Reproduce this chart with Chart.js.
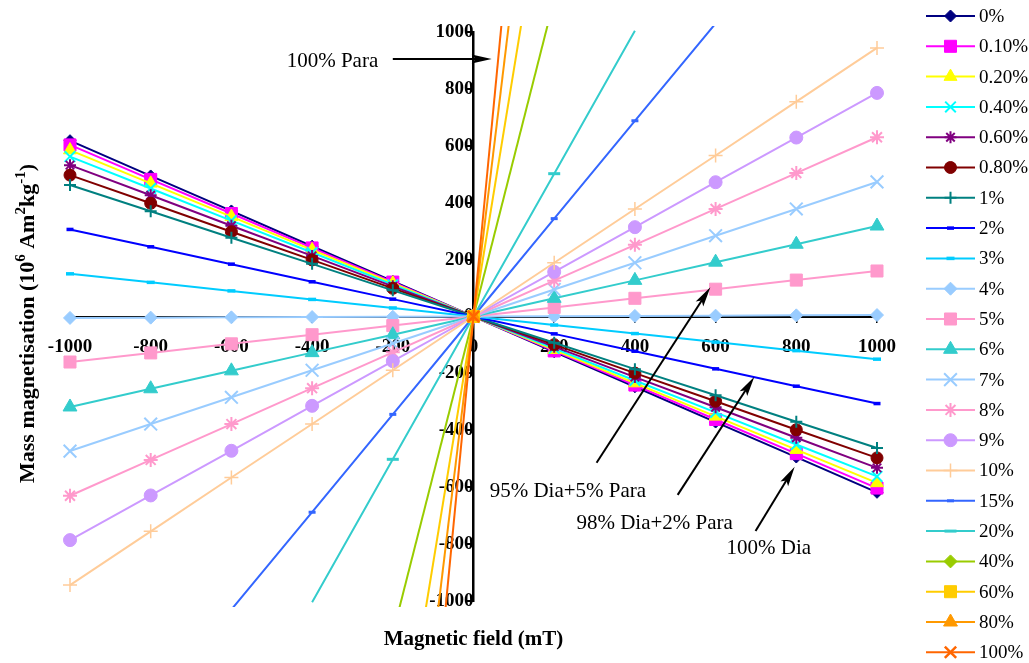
<!DOCTYPE html>
<html>
<head>
<meta charset="utf-8">
<title>Mass magnetisation</title>
<script src="https://cdn.jsdelivr.net/npm/chart.js@4.4.1/dist/chart.umd.min.js"></script>
<style>
  html, body { margin: 0; padding: 0; background: #fff; }
  #wrap { width: 1029px; height: 663px; }
</style>
</head>
<body>
<div id="wrap"><canvas id="graph1" width="1029" height="663"></canvas></div>
<script>
// applied field (mT)
const field = [-1000, -800, -600, -400, -200, 0, 200, 400, 600, 800, 1000];

const seriesLabels = ['0%', '0.10%', '0.20%', '0.40%', '0.60%', '0.80%', '1%', '2%', '3%', '4%',
    '5%', '6%', '7%', '8%', '9%', '10%', '15%', '20%', '40%', '60%', '80%', '100%'];

// mass magnetisation, 10^-6 Am2/kg (null = point off scale)
const m0    = [618, 494, 371, 247, 124, 0, -124, -247, -371, -494, -618];
const m0_1  = [603, 482, 362, 241, 121, 0, -121, -241, -362, -482, -603];
const m0_2  = [585, 468, 351, 234, 117, 0, -117, -234, -351, -468, -585];
const m0_4  = [562, 450, 337, 225, 112, 0, -112, -225, -337, -450, -562];
const m0_6  = [532, 426, 319, 213, 106, 0, -106, -213, -319, -426, -532];
const m0_8  = [497, 398, 298, 199, 99, 0, -99, -199, -298, -398, -497];
const m1    = [462, 370, 277, 185, 92, 0, -92, -185, -277, -370, -462];
const m2    = [306, 245, 184, 122, 61, 0, -61, -122, -184, -245, -306];
const m3    = [150, 120, 90, 60, 30, 0, -30, -60, -90, -120, -150];
const m4    = [-5, -4, -3, -2, -1, 0, 1, 2, 3, 4, 5];
const m5    = [-160, -128, -96, -64, -32, 0, 32, 64, 96, 128, 160];
const m6    = [-318, -254, -191, -127, -64, 0, 64, 127, 191, 254, 318];
const m7    = [-473, -378, -284, -189, -95, 0, 95, 189, 284, 378, 473];
const m8    = [-630, -504, -378, -252, -126, 0, 126, 252, 378, 504, 630];
const m9    = [-786, -629, -472, -314, -157, 0, 157, 314, 472, 629, 786];
const m10   = [-944, -755, -566, -378, -189, 0, 189, 378, 566, 755, 944];
const m15   = [null, null, -1030, -688, -344, 0, 344, 688, 1030, null, null];
const m20   = [null, null, null, -1004, -502, 0, 502, 1004, null, null, null];
const m40   = [null, null, null, null, -1115, 0, 1115, null, null, null, null];
const m60   = [null, null, null, null, -1735, 0, 1735, null, null, null, null];
const m80   = [null, null, null, null, -2345, 0, 2345, null, null, null, null];
const m100  = [null, null, null, null, -2960, 0, 2960, null, null, null, null];

const seriesValues = [m0, m0_1, m0_2, m0_4, m0_6, m0_8, m1, m2, m3, m4,
    m5, m6, m7, m8, m9, m10, m15, m20, m40, m60, m80, m100];

// line / marker looks, one per series
const seriesColors = ['#000080', '#FF00FF', '#FFFF00', '#00FFFF', '#800080', '#800000', '#008080', '#0000FF', '#00CCFF', '#99CCFF',
    '#FF99CC', '#33CCCC', '#99CCFF', '#FF99CC', '#CC99FF', '#FFCC99', '#3366FF', '#33CCCC', '#99CC00', '#FFCC00', '#FF9900', '#FF6600'];
const markerStyles = ['rectRot', 'rect', 'triangle', 'crossRot', 'star', 'circle', 'cross', 'line', 'line', 'rectRot',
    'rect', 'triangle', 'crossRot', 'star', 'circle', 'cross', 'line', 'line', 'rectRot', 'rect', 'triangle', 'crossRot'];
const markerRadius = [6, 8.5, 7.5, 7.5, 6, 6, 6, 3.5, 4, 6.5,
    8.5, 8, 9, 7, 6.5, 7, 3.5, 6, 6.5, 8.5, 8, 8];
const markerBorder = [1, 1, 1, 2, 2, 1, 2, 3.5, 3.5, 1,
    1, 1, 2, 2, 1, 1.5, 3, 3, 1, 1, 1, 2.5];

// callouts: text anchor and arrow, in data units
const callouts = [
    { text: '100% Para',       at: [-463, 895],  from: [-200, 905], to: [45, 905] },
    { text: '95% Dia+5% Para', at: [40, -616],   from: [305, -514], to: [587, 103] },
    { text: '98% Dia+2% Para', at: [255, -726],  from: [506, -627], to: [696, -212] },
    { text: '100% Dia',        at: [627, -817],  from: [699, -754], to: [796, -528] },
];

const serif = '"Liberation Serif", "Times New Roman", serif';
Chart.defaults.font.family = serif;
Chart.defaults.color = '#000';

const datasets = seriesLabels.map((label, i) => ({
    label: label,
    data: field.map((x, j) => ({ x: x, y: seriesValues[i][j] })),
    borderColor: seriesColors[i],
    backgroundColor: seriesColors[i],
    borderWidth: 2,
    tension: 0,
    spanGaps: false,
    clip: { left: 14, right: 14, top: 6, bottom: 6 },
    pointStyle: markerStyles[i],
    pointRadius: ctx => (ctx.parsed && Math.abs(ctx.parsed.y) > 1000 ? 0 : markerRadius[i]),
    pointBorderWidth: markerBorder[i],
    pointBackgroundColor: seriesColors[i],
    pointBorderColor: seriesColors[i],
    order: seriesLabels.length - i
}));

function drawArrow(ctx, x1, y1, x2, y2) {
    const a = Math.atan2(y2 - y1, x2 - x1);
    const len = 20, half = 4.5;
    const c = Math.cos(a), s = Math.sin(a);
    ctx.beginPath();
    ctx.moveTo(x1, y1);
    ctx.lineTo(x2 - c * len * 0.7, y2 - s * len * 0.7);
    ctx.stroke();
    ctx.beginPath();
    ctx.moveTo(x2, y2);
    ctx.lineTo(x2 - c * len + s * half, y2 - s * len - c * half);
    ctx.lineTo(x2 - c * len * 0.8, y2 - s * len * 0.8);
    ctx.lineTo(x2 - c * len - s * half, y2 - s * len + c * half);
    ctx.closePath();
    ctx.fill();
}

const extras = {
    id: 'extras',
    afterDraw(chart) {
        const ctx = chart.ctx;
        const xs = chart.scales.x, ys = chart.scales.y;
        ctx.save();

        // legend down the right side
        const top = 16, step = 30.3;
        seriesLabels.forEach((label, i) => {
            const y = top + i * step;
            ctx.strokeStyle = seriesColors[i];
            ctx.lineWidth = 2;
            ctx.beginPath();
            ctx.moveTo(926, y);
            ctx.lineTo(975, y);
            ctx.stroke();
            ctx.fillStyle = seriesColors[i];
            ctx.lineWidth = markerBorder[i];
            Chart.helpers.drawPoint(ctx, {
                pointStyle: markerStyles[i], radius: markerRadius[i], rotation: 0, borderWidth: markerBorder[i]
            }, 950.5, y);
            ctx.fillStyle = '#000';
            ctx.font = '19px ' + serif;
            ctx.textAlign = 'left';
            ctx.textBaseline = 'middle';
            ctx.fillText(label, 979, y + 1);
        });

        // x title
        ctx.fillStyle = '#000';
        ctx.font = 'bold 21px ' + serif;
        ctx.textAlign = 'center';
        ctx.textBaseline = 'alphabetic';
        ctx.fillText('Magnetic field (mT)', (xs.left + xs.right) / 2, 645);

        // y title with superscripts
        const parts = [
            ['Mass magnetisation (10', false], ['6', true], [' Am', false], ['2', true],
            ['kg', false], ['-1', true], [')', false]
        ];
        const mainFont = 'bold 22px ' + serif, supFont = 'bold 15px ' + serif;
        let total = 0;
        parts.forEach(p => { ctx.font = p[1] ? supFont : mainFont; total += ctx.measureText(p[0]).width; });
        ctx.translate(34, (ys.top + ys.bottom) / 2 + 7);
        ctx.rotate(-Math.PI / 2);
        ctx.textAlign = 'left';
        let cx = -total / 2;
        parts.forEach(p => {
            ctx.font = p[1] ? supFont : mainFont;
            ctx.fillText(p[0], cx, p[1] ? -9 : 0);
            cx += ctx.measureText(p[0]).width;
        });
        ctx.setTransform(1, 0, 0, 1, 0, 0);

        // callout labels and arrows
        ctx.font = '21px ' + serif;
        ctx.textAlign = 'left';
        ctx.textBaseline = 'middle';
        ctx.strokeStyle = '#000';
        ctx.fillStyle = '#000';
        ctx.lineWidth = 2;
        callouts.forEach(c => {
            ctx.fillText(c.text, xs.getPixelForValue(c.at[0]), ys.getPixelForValue(c.at[1]));
            drawArrow(ctx,
                xs.getPixelForValue(c.from[0]), ys.getPixelForValue(c.from[1]),
                xs.getPixelForValue(c.to[0]), ys.getPixelForValue(c.to[1]));
        });
        ctx.restore();
    }
};

const config = {
    type: 'line',
    data: { datasets: datasets },
    options: {
        responsive: false,
        animation: false,
        events: [],
        layout: { padding: { left: 70, right: 152, top: 32, bottom: 62 } },
        scales: {
            x: {
                type: 'linear',
                min: -1000,
                max: 1000,
                position: { y: 0 },
                ticks: { stepSize: 200, autoSkip: false, maxRotation: 0, padding: 14, color: '#000',
                    font: { size: 19, weight: 'bold' },
                    callback: value => String(value) },
                grid: { drawOnChartArea: false, drawTicks: true, tickLength: 5, color: '#000', lineWidth: 1.5 },
                border: { color: '#000', width: 2 }
            },
            y: {
                type: 'linear',
                min: -1000,
                max: 1000,
                position: { x: 0 },
                ticks: { stepSize: 200, autoSkip: false, padding: 8, color: '#000',
                    font: { size: 19, weight: 'bold' },
                    callback: value => String(value) },
                grid: { drawOnChartArea: false, drawTicks: true, tickLength: 6, color: '#000', lineWidth: 2 },
                border: { color: '#000', width: 2.5 }
            }
        },
        plugins: {
            legend: { display: false },
            tooltip: { enabled: false }
        }
    },
    plugins: [extras]
};

const myChart = new Chart(document.getElementById('graph1'), config);
</script>
</body>
</html>
